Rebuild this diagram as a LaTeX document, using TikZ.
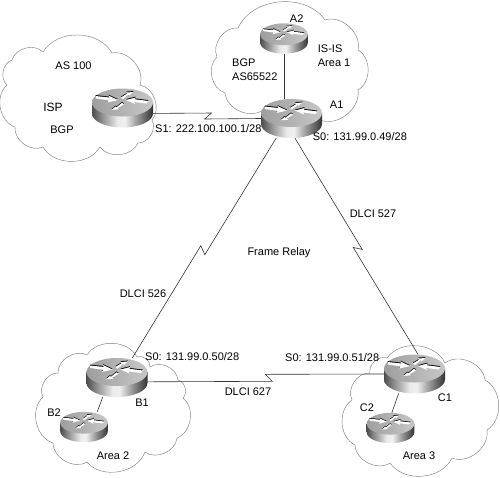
\documentclass[tikz,border=0pt]{standalone}
\usepackage{fontspec}
\setmainfont{Liberation Sans}
\usetikzlibrary{calc}
\pgfdeclarehorizontalshading{routerbody}{100bp}{
  color(0bp)=(black!70); color(25bp)=(black!70); color(33bp)=(black!45);
  color(46bp)=(black!8); color(52bp)=(black!6); color(62bp)=(black!40);
  color(75bp)=(black!80); color(100bp)=(black!80)}
\newcommand{\routericon}[1]{%
  \fill[#1] (-27,-6.5) -- (-13,-5) -- (-14,-7) -- (-4.5,-2.5) -- (-15,0) -- (-14,-2.2) -- (-27,-4) -- cycle;
  \fill[#1] (-1.5,-5) -- (4.5,-8.8) -- (3.5,-10) -- (11,-10.5) -- (7,-7.2) -- (6,-8) -- (0.5,-3.5) -- cycle;
  \fill[#1] (1.5,1.8) -- (-4.5,5.6) -- (-3.5,6.8) -- (-11,7.3) -- (-7,4) -- (-6,4.8) -- (-0.5,0.3) -- cycle;
  \fill[#1] (3.5,-2.5) -- (13,-5) -- (12.5,-3.2) -- (26,-1.5) -- (24,1) -- (12,-0.5) -- (12.5,1.5) -- cycle;
}
\tikzset{
  router/.pic={
    \shade[shading=routerbody] (-30.5,-5.5) -- (-30.5,5.5) arc (180:0:30.5 and 14) -- (30.5,-5.5) -- cycle;
    \shade[left color=black!38, right color=black!22] (0,-5.5) ellipse (30.5 and 14);
    \begin{scope}[shift={(0,-5.5)}]
      \routericon{black, yshift=0.9pt}
      \routericon{white}
    \end{scope}
  },
}
\begin{document}
\begin{tikzpicture}[
    x={(1pt,0pt)}, y={(0pt,-1pt)},
    every node/.style={font=\fontsize{11}{13}\selectfont, inner sep=0pt},
    routerbox/.style={minimum width=61pt, minimum height=39pt},
    smallbox/.style={minimum width=48pt, minimum height=30pt},
    cloudline/.style={draw=cloudgray, line width=0.45pt},
    linkline/.style={draw=linkgray, line width=0.6pt},
    serial/.style 2 args={to path={
      -- ($(\tikztostart)!#1!(\tikztotarget)+(#2)$)
      -- ($(\tikztostart)!#1!(\tikztotarget)-(#2)$)
      -- (\tikztotarget)}},
  ]
    \definecolor{cloudgray}{HTML}{808080}
    \definecolor{linkgray}{HTML}{333333}

    \newcommand{\drawcloud}[2]{%
      \draw[cloudline] #1 foreach \px/\py in {#2}{ to[bend left=60] (\px,\py) };
    }
    \useasboundingbox (0,0) rectangle (500,477);

    % ============ routers ============
    \node[routerbox] (ISP) at (122.5,108) {};
    \node[routerbox] (A1) at (291.5,118.5) {};
    \node[smallbox] (A2) at (284,38.5) {};
    \node[routerbox] (B1) at (117,377.5) {};
    \node[smallbox] (B2) at (84,427) {};
    \node[routerbox] (C1) at (414.5,374) {};
    \node[smallbox] (C2) at (390.5,428) {};

    % ============ clouds ============
    \drawcloud{(43,52)}{112/53,140/85,152/120,138/143,100/147,43/147,15/127,7/85,12/60,43/52}
    \drawcloud{(238,28)}{325/20,358/50,358/90,320/120,263/110,225/93,217/57,238/28}
    \drawcloud{(87,355)}{137/357,150/367,178/380,183/398,177/438,145/452,87/462,53/443,43/397,58/373,87/355}
    \drawcloud{(387,358)}{445/363,485/380,487/430,452/458,390/463,355/445,352/400,370/373,387/358}

    % ============ links ============
    \draw[linkline] (ISP.-10) to[serial={.51}{3.5,-3}] (A1.west);
    \draw[linkline] (A1.-128) to[serial={.51}{2,4.5}] (B1.52);
    \draw[linkline] (A1.-80) to[serial={.51}{4.5,1}] (C1.80);
    \draw[linkline] (B1.-8) to[serial={.513}{3.5,3.5}] (C1.west);
    \draw[linkline] (A2.south) -- (A2.south |- A1.north);
    \draw[linkline] (B1.-126) -- (B2.49);
    \draw[linkline] (C1.-129) -- (C2.85);

    \foreach \r in {ISP,A1,B1,C1}{
      \pic at (\r) {router};
    }
    \foreach \r in {A2,B2,C2}{
      \pic[scale=0.78] at (\r) {router};
    }

    % ============ labels ============
    \node (asname) at (73.5,66) {AS 100};
    \node[font=\fontsize{12}{14}\selectfont] (ispname) at (53,107) {ISP};
    \node (ispbgp) at (62,130) {BGP};
    \node[anchor=west] (ispaddr) at (155,129) {S1: 222.100.100.1/28};
    \node (a2name) at (296.7,19) {A2};
    \node[anchor=west] (aisis) at (317.7,49) {IS-IS};
    \node[anchor=west] (aarea) at (317.7,63) {Area 1};
    \node[anchor=west] (abgp) at (232,63) {BGP};
    \node[anchor=west] (aas) at (232,77) {AS65522};
    \node (a1name) at (336.7,105) {A1};
    \node[anchor=west] (a1addr) at (312.7,137) {S0: 131.99.0.49/28};
    \node (frame) at (279,253) {Frame Relay};
    \node (dlcia) at (373,214) {DLCI 527};
    \node (dlcib) at (143,294) {DLCI 526};
    \node (dlcic) at (248,392) {DLCI 627};
    \node[anchor=west] (b1addr) at (145,357) {S0: 131.99.0.50/28};
    \node (b1name) at (142,403) {B1};
    \node (b2name) at (54,413) {B2};
    \node (barea) at (113,456) {Area 2};
    \node[anchor=west] (c1addr) at (285,358) {S0: 131.99.0.51/28};
    \node (c1name) at (445,398) {C1};
    \node (c2name) at (367,408) {C2};
    \node (carea) at (419,456) {Area 3};
\end{tikzpicture}
\end{document}
